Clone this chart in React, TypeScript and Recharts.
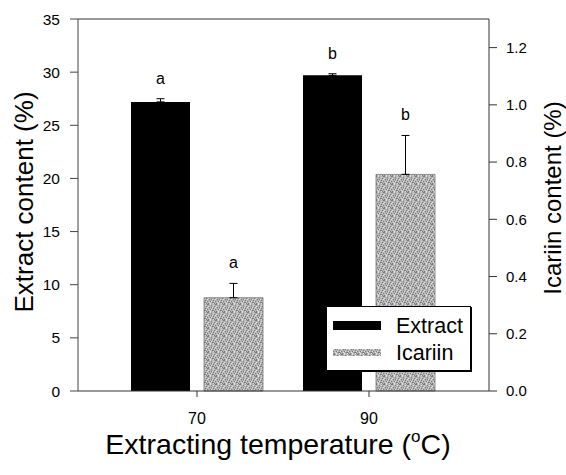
import React from 'react';
import { BarChart, Bar, XAxis, YAxis, ErrorBar, LabelList, Legend, ReferenceLine } from 'recharts';

const categories = ['70', '90'];
const seriesNames = ['Extract', 'Icariin'];
const extractValues = [27.2, 29.7];
const extractErrors = [0.3, 0.15];
const icariinValues = [0.326, 0.757];
const icariinErrors = [0.05, 0.136];
const extractLetters = ['a', 'b'];
const icariinLetters = ['a', 'b'];
const leftTicks = [0, 5, 10, 15, 20, 25, 30, 35];
const rightTicks = [0, 0.2, 0.4, 0.6, 0.8, 1.0, 1.2];

const data = categories.map((c, i) => ({
  temp: c,
  extract: extractValues[i],
  extractErr: [0, extractErrors[i]],
  extractLetter: extractLetters[i],
  icariin: icariinValues[i],
  icariinErr: [0, icariinErrors[i]],
  icariinLetter: icariinLetters[i],
}));

const FONT = '"Liberation Sans", Arial, sans-serif';

const darkDots = [[0,0],[3,1],[6,2],[1,3],[5,4],[2,5],[7,5],[4,6],[0,7],[6,7],[3,3],[7,0],[5,6]];
const lightDots = [[2,0],[5,1],[0,2],[4,3],[7,3],[1,6],[3,5],[6,5],[2,7],[5,7]];

const Stipple = ({ id }: { id: string }) => (
  <pattern id={id} width={8} height={8} patternUnits="userSpaceOnUse">
    <rect width={8} height={8} fill="#b3b3b3" />
    {darkDots.map(([x, y], k) => <rect key={'d' + k} x={x} y={y} width={1} height={1} fill="#777" />)}
    {lightDots.map(([x, y], k) => <rect key={'l' + k} x={x} y={y} width={1} height={1} fill="#e4e4e4" />)}
  </pattern>
);

const makeLetter = (values: number[], errors: number[]) => (props: any) => {
  const { x, y, width, height, value } = props;
  const i = props.index ?? 0;
  const px = Number(height) / values[i];
  const top = Number(y) - errors[i] * px;
  return (
    <text x={Number(x) + Number(width) / 2} y={top - 15} textAnchor="middle" fontSize={16} fontFamily={FONT} fill="#000">
      {value}
    </text>
  );
};

const Title = (p: any) => {
  const { tx, ty, rot, text, size, children } = p;
  return (
    <text
      x={tx}
      y={ty}
      transform={rot ? `rotate(${rot} ${tx} ${ty})` : undefined}
      textAnchor="middle"
      fontSize={size}
      fontFamily={FONT}
      fill="#000"
    >
      {children ?? text}
    </text>
  );
};

const LegendBox = () => (
  <svg width={147} height={67} style={{ display: 'block' }}>
    <defs>
      <Stipple id="stippleLegend" />
    </defs>
    <rect x={0.5} y={0.5} width={144} height={64} fill="#fff" stroke="#000" strokeWidth={1} />
    <line x1={145.5} y1={1} x2={145.5} y2={66} stroke="#000" strokeWidth={1} />
    <line x1={1} y1={65.5} x2={146} y2={65.5} stroke="#000" strokeWidth={1} />
    <rect x={7} y={15} width={48} height={9} fill="#000" />
    <rect x={7} y={43} width={48} height={7} fill="url(#stippleLegend)" />
    <text x={70} y={27} fontSize={21.5} fontFamily={FONT} fill="#000">{seriesNames[0]}</text>
    <text x={70} y={53.5} fontSize={21.5} fontFamily={FONT} fill="#000">{seriesNames[1]}</text>
  </svg>
);

export default function App() {
  return (
    <div style={{ position: 'absolute', left: 0, top: 0, width: 566, height: 475, background: '#fff' }}>
      <BarChart width={566} height={475} data={data} margin={{ top: 19, right: 0, bottom: 0, left: 0 }} barGap={14}>
        <defs>
          <Stipple id="stipple" />
        </defs>
        <XAxis
          dataKey="temp"
          height={84}
          padding={{ left: 33, right: 34 }}
          tickSize={6}
          tickMargin={16}
          axisLine={{ stroke: '#333' }}
          tickLine={{ stroke: '#333' }}
          tick={{ fontSize: 16, fill: '#000', fontFamily: FONT }}
          label={<Title tx={278} ty={454} size={28.5}>
            Extracting temperature (<tspan fontSize={17} dy={-12}>o</tspan><tspan dy={12}>C)</tspan>
          </Title>}
        />
        <YAxis
          yAxisId="left"
          domain={[0, 35]}
          ticks={leftTicks}
          interval={0}
          width={78}
          tickSize={8}
          tickMargin={10}
          axisLine={{ stroke: '#444' }}
          tickLine={{ stroke: '#444' }}
          tick={{ fontSize: 15.5, fill: '#000', fontFamily: FONT }}
          label={<Title tx={33} ty={202} rot={-90} size={26} text="Extract content (%)" />}
        />
        <YAxis
          yAxisId="right"
          orientation="right"
          domain={[0, 1.3]}
          ticks={rightTicks}
          interval={0}
          width={77}
          tickSize={8}
          tickMargin={9}
          tickFormatter={(v: number) => v.toFixed(1)}
          axisLine={{ stroke: '#333' }}
          tickLine={{ stroke: '#333' }}
          tick={{ fontSize: 15, fill: '#000', fontFamily: FONT }}
          label={<Title tx={561} ty={198} rot={-90} size={24} text="Icariin content (%)" />}
        />
        <ReferenceLine yAxisId="left" y={35} stroke="#333" strokeWidth={1} />
        <Bar yAxisId="left" dataKey="extract" name={seriesNames[0]} fill="#000" barSize={59} isAnimationActive={false}>
          <ErrorBar dataKey="extractErr" direction="y" width={4} stroke="#000" strokeWidth={1} />
          <LabelList dataKey="extractLetter" content={makeLetter(extractValues, extractErrors)} />
        </Bar>
        <Bar yAxisId="right" dataKey="icariin" name={seriesNames[1]} fill="url(#stipple)" stroke="#777" strokeWidth={0.8} barSize={59} isAnimationActive={false}>
          <ErrorBar dataKey="icariinErr" direction="y" width={4} stroke="#000" strokeWidth={1} />
          <LabelList dataKey="icariinLetter" content={makeLetter(icariinValues, icariinErrors)} />
        </Bar>
        <Legend
          layout="horizontal"
          verticalAlign="middle"
          align="center"
          wrapperStyle={{ left: 326, top: 306, width: 147, height: 67 }}
          content={() => <LegendBox />}
        />
      </BarChart>
    </div>
  );
}
